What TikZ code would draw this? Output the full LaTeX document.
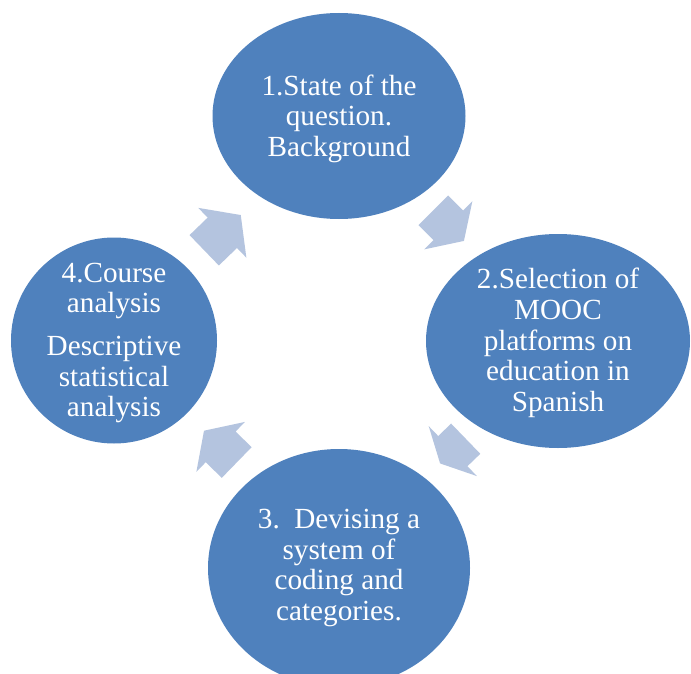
\documentclass[tikz,border=0pt]{standalone}
\usepackage{fontspec}
\setmainfont{Liberation Serif}
\usetikzlibrary{shapes.geometric}
\definecolor{stageblue}{HTML}{4F81BD}
\definecolor{arrowblue}{RGB}{180,196,223}
\tikzset{
  stage/.style={ellipse, fill=stageblue, draw=none, inner sep=0pt},
  stagetext/.style={text=white, align=center, inner sep=0pt,
    font=\fontsize{29.2}{30.6}\selectfont},
  arrowfill/.style={fill=arrowblue}
}
% tail x, tail y, angle, body length, head length, body half width, head half width
\newcommand{\blockarr}[7]{%
  \fill[arrowfill,shift={(#1,#2)},rotate=#3]
    (0,#6) -- (#4,#6) -- (#4,#7) -- ({#4+#5},0) -- (#4,-#7) -- (#4,-#6) -- (0,-#6) -- cycle;}
\begin{document}
\begin{tikzpicture}[x=1pt,y=-1pt]
\clip (0,0) rectangle (691,674);
\fill[white] (0,0) rectangle (691,674);
% stages
\node[stage, minimum width=253pt, minimum height=206pt] (s1) at (339,116) {};
\node[stage, minimum width=264pt, minimum height=214pt] (s2) at (558,341) {};
\node[stage, minimum width=262pt, minimum height=238pt] (s3) at (339,568) {};
\node[stage, minimum width=206pt, minimum height=206pt] (s4) at (114,340.5) {};
\node[stagetext, yshift=-2.5pt] (t1) at (s1.center) {1.State of the\\question.\\Background};
\node[stagetext, yshift=-2pt] (t2) at (s2.center) {2.Selection of\\MOOC\\platforms on\\education in\\Spanish};
\node[stagetext] (t3) at (s3.center) {3.\ \ Devising a\\system of\\coding and\\categories.};
\node[stagetext, yshift=-2.5pt] (t4) at (s4.center) {4.Course\\analysis\\[12.4pt]Descriptive\\statistical\\analysis};
% arrows
\blockarr{204.2}{250.3}{44}{25.2}{25.6}{21.1}{34.6}
\blockarr{433.3}{210.3}{-45}{21.3}{22}{21}{33.9}
\blockarr{465.7}{438.7}{-136}{17.9}{17.7}{21}{34.7}
\blockarr{236.7}{462.5}{135.8}{22.4}{23.2}{21.4}{34.8}
\end{tikzpicture}
\end{document}
